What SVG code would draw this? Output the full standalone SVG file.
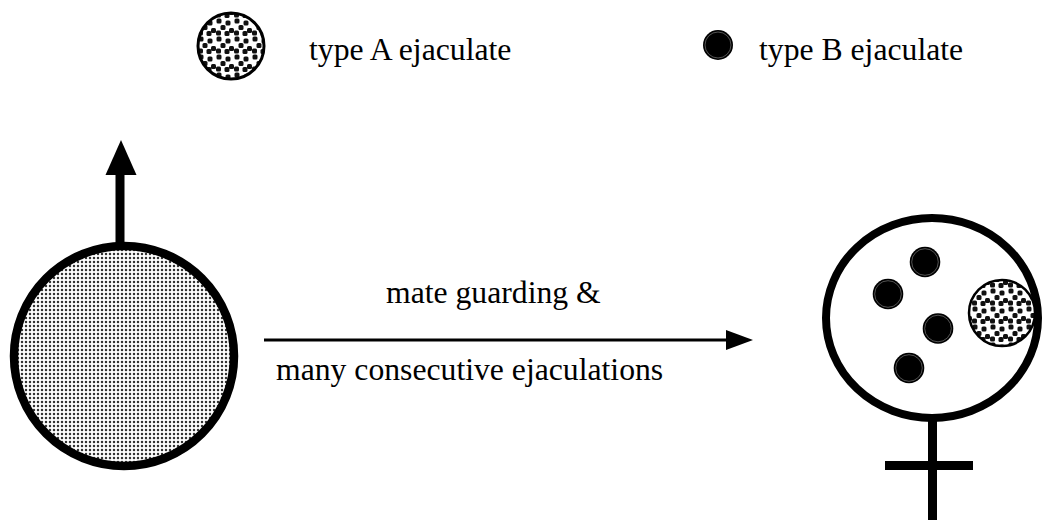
<svg xmlns="http://www.w3.org/2000/svg" width="1045" height="520" viewBox="0 0 1045 520">
  <style>
    .txt { font-family: "Liberation Serif", "Times New Roman", serif; font-size: 31.7px; fill: #000; }
    .dotB { fill: #000; }
    .dotRing { fill: none; stroke: #777; stroke-width: 0.7; }
    .typeA { fill: url(#patA); stroke: #000; }
  </style>
  <defs>
    <pattern id="patFine" width="4" height="4" patternUnits="userSpaceOnUse">
      <rect width="4" height="4" fill="#fff"/>
      <circle cx="2" cy="2" r="1.25" fill="#333"/>
    </pattern>
    <pattern id="patA" width="18" height="18" patternUnits="userSpaceOnUse">
      <rect width="18" height="18" fill="#fff"/>
      <g fill="#111">
        <rect x="0.5" y="0.5" width="5" height="5" rx="1.5"/>
        <rect x="9.5" y="2.5" width="5" height="5" rx="1.5"/>
        <rect x="4.5" y="7" width="5" height="5" rx="1.5"/>
        <rect x="13" y="10" width="5" height="5" rx="1.5"/>
        <rect x="0" y="12.5" width="5" height="5" rx="1.5"/>
        <rect x="8.5" y="13" width="5" height="5" rx="1.5"/>
      </g>
    </pattern>
    <marker id="arrowH" markerUnits="userSpaceOnUse" markerWidth="28" markerHeight="22" refX="0" refY="10" orient="auto">
      <path d="M0,0 L27,10 L0,20 z" fill="#000"/>
    </marker>
  </defs>

  <g id="legend-typeA">
    <circle class="typeA" cx="231" cy="46" r="33" stroke-width="3"/>
    <text class="txt" x="309" y="60">type A ejaculate</text>
  </g>
  <g id="legend-typeB">
    <circle class="dotB" cx="718" cy="45" r="15"/>
    <circle class="dotRing" cx="718" cy="45" r="13"/>
    <text class="txt" x="759" y="60">type B ejaculate</text>
  </g>

  <g id="male">
    <circle cx="124" cy="356" r="110" fill="url(#patFine)" stroke="#000" stroke-width="8.5"/>
  </g>

  <g id="female">
    <line x1="932.5" y1="418" x2="932.5" y2="520" stroke="#000" stroke-width="9"/>
    <line x1="885" y1="465.5" x2="973" y2="465.5" stroke="#000" stroke-width="9"/>
    <ellipse cx="932" cy="318" rx="106" ry="100" fill="#fff" stroke="#000" stroke-width="8"/>
    <g id="female-dots">
      <circle class="dotB" cx="925" cy="262" r="15.3"/>
      <circle class="dotRing" cx="925" cy="262" r="13.3"/>
      <circle class="dotB" cx="888" cy="294" r="15.3"/>
      <circle class="dotRing" cx="888" cy="294" r="13.3"/>
      <circle class="dotB" cx="938" cy="328.5" r="15.3"/>
      <circle class="dotRing" cx="938" cy="328.5" r="13.3"/>
      <circle class="dotB" cx="909" cy="368" r="15.3"/>
      <circle class="dotRing" cx="909" cy="368" r="13.3"/>
    </g>
    <circle class="typeA" cx="1002" cy="313" r="33" stroke-width="2.5"/>
  </g>

  <g id="connectors">
    <g id="up-arrow">
      <rect x="115.5" y="174" width="9" height="70" fill="#000"/>
      <polygon points="105.5,175 121,140 136.5,175" fill="#000"/>
    </g>
    <line id="main-arrow" x1="264" y1="340" x2="726" y2="340" stroke="#000" stroke-width="3" marker-end="url(#arrowH)"/>
  </g>

  <g id="labels">
    <text class="txt" x="386" y="303">mate guarding &amp;</text>
    <text class="txt" x="276" y="380">many consecutive ejaculations</text>
  </g>
</svg>
